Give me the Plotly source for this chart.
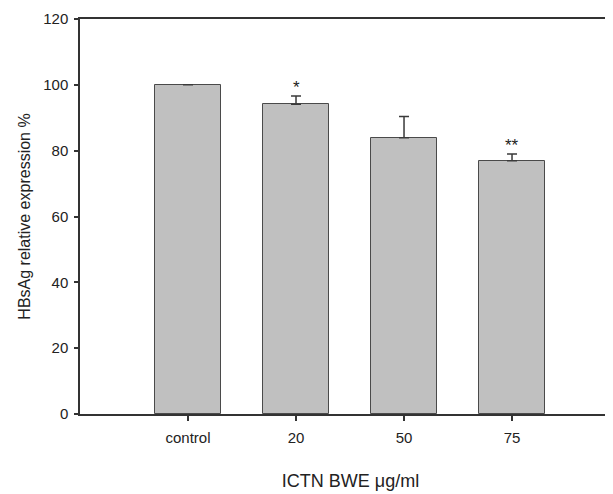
import plotly.graph_objects as go

categories = ["control", "20", "50", "75"]
values = [100, 94.1, 83.9, 76.9]
errors = [None, 2.5, 6.5, 2.1]
stars = ["", "*", "", "**"]
y_ticks = [0, 20, 40, 60, 80, 100, 120]

fig = go.Figure()
fig.add_trace(go.Bar(
    x=categories, y=values, width=0.61,
    marker=dict(color="#c0c0c0", line=dict(color="#4a4a4a", width=1)),
    error_y=dict(type="data", array=errors, arrayminus=[0]*4, symmetric=False,
                 color="#3a3a3a", thickness=1.5, width=5),
    showlegend=False,
))

for i, (v, e, s) in enumerate(zip(values, errors, stars)):
    if s:
        fig.add_annotation(x=i, y=v + (e or 0), text=s, showarrow=False,
                           xref="x", yref="y",
                           yanchor="bottom", yshift=-3,
                           font=dict(family="Liberation Sans, Arial", size=17, color="#222"))

# page body has an 8px default margin; the plot runs off the right edge like the reference
fig.update_layout(
    width=613, height=487,
    margin=dict(l=72, r=0, t=11, b=81, autoexpand=False),
    plot_bgcolor="white", paper_bgcolor="white",
    bargap=0,
    font=dict(family="Liberation Sans, Arial", color="#222"),
    xaxis=dict(
        type="category", range=[-1, 4.009], automargin=False,
        showline=True, linecolor="#333", linewidth=1.5, mirror=True,
        ticks="outside", ticklen=5, tickcolor="#333", tickwidth=1.5,
        tickfont=dict(size=15), showgrid=False, zeroline=False,
        ticklabelstandoff=4,
        title=dict(text="ICTN BWE μg/ml", font=dict(size=18), standoff=30),
    ),
    yaxis=dict(
        range=[0, 120], tickvals=y_ticks, automargin=False,
        showline=True, linecolor="#333", linewidth=1.5, mirror=False,
        ticks="outside", ticklen=4, tickcolor="#333", tickwidth=1.5,
        tickfont=dict(size=15), showgrid=False, zeroline=False,
        ticklabelstandoff=3,
        title=dict(text="HBsAg relative expression %", font=dict(size=16), standoff=9),
    ),
)

fig.write_html("out.html")
